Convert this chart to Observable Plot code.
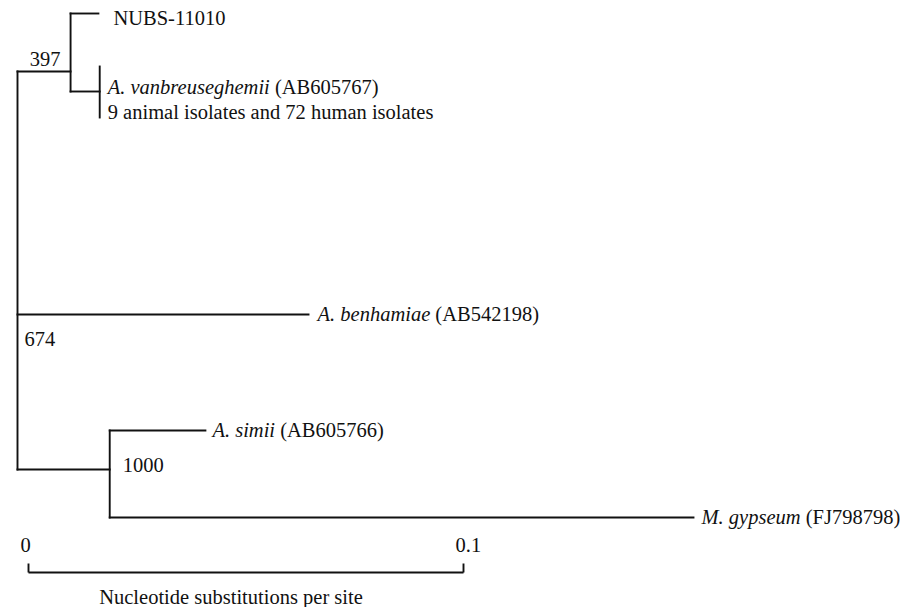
<!DOCTYPE html>
<html><head><meta charset="utf-8">
<script src="https://cdn.jsdelivr.net/npm/d3@7"></script>
<script src="https://cdn.jsdelivr.net/npm/@observablehq/plot@0.6"></script>
<style>
html,body{margin:0;padding:0;background:#fff;}
#chart svg{display:block;}
</style>
</head><body><div id="chart"></div>
<script>
// ---- tree data ----
const nodeIds       = ["root", "n397", "NUBS", "cladeV", "vanb", "isolates", "benh", "n1000", "simii", "gyps"];
const nodeParents   = [null,   "root", "n397", "n397",   "cladeV", "cladeV", "root", "root",  "n1000", "n1000"];
const branchLengths = [0,      0.0122, 0.0064, 0.0067,   0,      0,          0.0669, 0.0212,  0.0220,  0.1342];

const leafIds        = ["NUBS", "vanb", "isolates", "benh", "simii", "gyps"];
const leafNames      = ["NUBS-11010", "A. vanbreuseghemii", "9 animal isolates and 72 human isolates", "A. benhamiae", "A. simii", "M. gypseum"];
const leafAccessions = [null, "AB605767", null, "AB542198", "AB605766", "FJ798798"];
const leafItalic     = [false, true, false, true, true, true];

const bootstrapNodes  = ["n397", "root", "n1000"];
const bootstrapValues = [397, 674, 1000];

const scaleTicks = [0, 0.1];
const scaleTitle = "Nucleotide substitutions per site";

// ---- layout (vertical rows, offsets) ----
const rowY = {root: 314, n397: 71, NUBS: 13, cladeV: 91, vanb: 87, isolates: 112, benh: 314, n1000: 469, simii: 430, gyps: 517};
const collapsedSpan = {cladeV: [66, 117]};
const labelOffset = {NUBS: {dx: 15, dy: 5}, vanb: {dx: 8, dy: 0}, isolates: {dx: 8, dy: 0}, benh: {dx: 9, dy: 0}, simii: {dx: 7, dy: 0}, gyps: {dx: 8, dy: 0}};
const bootOffset = {n397: {anchor: "end", dx: -10, dy: -12}, root: {anchor: "start", dx: 7, dy: 25}, n1000: {anchor: "start", dx: 13, dy: -4}};
const scaleBarY = 572, scaleTickH = 9, scaleBarDx = 11, scaleLabelY = 545, scaleTitleY = 597;

const FONT = "'Liberation Serif', 'Times New Roman', 'DejaVu Serif', serif";
const FS = 20.5;
const INK = "#111";

// ---- build tree ----
const nodes = new Map();
nodeIds.forEach((id, i) => nodes.set(id, {id, parent: nodeParents[i], len: branchLengths[i], y: rowY[id], children: []}));
for (const n of nodes.values()) if (n.parent) nodes.get(n.parent).children.push(n);
(function setX(n, x0) { n.x = x0 + n.len; n.children.forEach(c => setX(c, n.x)); })(nodes.get("root"), 0);

const horizontals = [...nodes.values()].filter(n => n.parent && n.len > 0)
  .map(n => ({x1: nodes.get(n.parent).x, x2: n.x, y: n.y}));
const verticals = [...nodes.values()].filter(n => n.children.length)
  .map(n => {
    const span = collapsedSpan[n.id] || d3.extent(n.children, c => c.y);
    return {x: n.x, y1: span[0], y2: span[1]};
  });

const leaves = leafIds.map((id, i) => ({
  id, name: leafNames[i], acc: leafAccessions[i], italic: leafItalic[i],
  label: leafNames[i] + (leafAccessions[i] ? " (" + leafAccessions[i] + ")" : ""),
  x: nodes.get(id).x, y: nodes.get(id).y
}));
const boots = bootstrapNodes.map((id, i) => ({id, value: bootstrapValues[i], x: nodes.get(id).x, y: nodes.get(id).y}));

const pxPerUnit = 4350, rootPx = 17;
const W = 900, H = 607;

const lineStyle = {stroke: INK, strokeWidth: 1.9, strokeLinecap: "square"};

const plot = Plot.plot({
  width: W, height: H,
  marginLeft: 0, marginRight: 0, marginTop: 0, marginBottom: 0,
  x: {domain: [-rootPx / pxPerUnit, (W - rootPx) / pxPerUnit], range: [0, W], axis: null},
  y: {domain: [0, H], range: [0, H], axis: null},
  style: {fontFamily: FONT, background: "#fff"},
  marks: [
    Plot.link(horizontals, {x1: "x1", x2: "x2", y1: "y", y2: "y", ...lineStyle}),
    Plot.link(verticals, {x1: "x", x2: "x", y1: "y1", y2: "y2", ...lineStyle}),
    ...leaves.map(l => Plot.text([l], {
      x: "x", y: "y", text: "label", textAnchor: "start",
      dx: labelOffset[l.id].dx, dy: labelOffset[l.id].dy,
      fontSize: FS, fill: INK, fontFamily: FONT
    })),
    ...boots.map(b => Plot.text([b], {
      x: "x", y: "y", text: d => String(d.value), textAnchor: bootOffset[b.id].anchor,
      dx: bootOffset[b.id].dx, dy: bootOffset[b.id].dy,
      fontSize: FS, fill: INK, fontFamily: FONT
    })),
    // scale bar
    Plot.link([scaleTicks], {x1: d => d[0], x2: d => d[1], y1: () => scaleBarY, y2: () => scaleBarY, dx: scaleBarDx, ...lineStyle, strokeLinecap: "butt"}),
    Plot.link(scaleTicks, {x1: d => d, x2: d => d, y1: () => scaleBarY, y2: () => scaleBarY - scaleTickH, dx: scaleBarDx, ...lineStyle, strokeLinecap: "butt"}),
    Plot.text(scaleTicks, {x: d => d, y: () => scaleLabelY, text: d => String(d), textAnchor: "start", dx: scaleBarDx - 8, fontSize: FS, fill: INK, fontFamily: FONT}),
    Plot.text([scaleTitle], {x: () => d3.mean(scaleTicks), y: () => scaleTitleY, text: d => d, textAnchor: "middle", dx: scaleBarDx - 15, fontSize: FS, fill: INK, fontFamily: FONT})
  ]
});

// italicise species names, keep accession in roman
plot.querySelectorAll("text").forEach(t => {
  const l = leaves.find(l => l.italic && l.label === t.textContent);
  if (!l) return;
  t.textContent = "";
  const ns = "http://www.w3.org/2000/svg";
  const a = document.createElementNS(ns, "tspan");
  a.setAttribute("font-style", "italic");
  a.textContent = l.name;
  const b = document.createElementNS(ns, "tspan");
  b.textContent = " (" + l.acc + ")";
  t.append(a, b);
});

document.getElementById("chart").append(plot);
</script>
</body></html>
